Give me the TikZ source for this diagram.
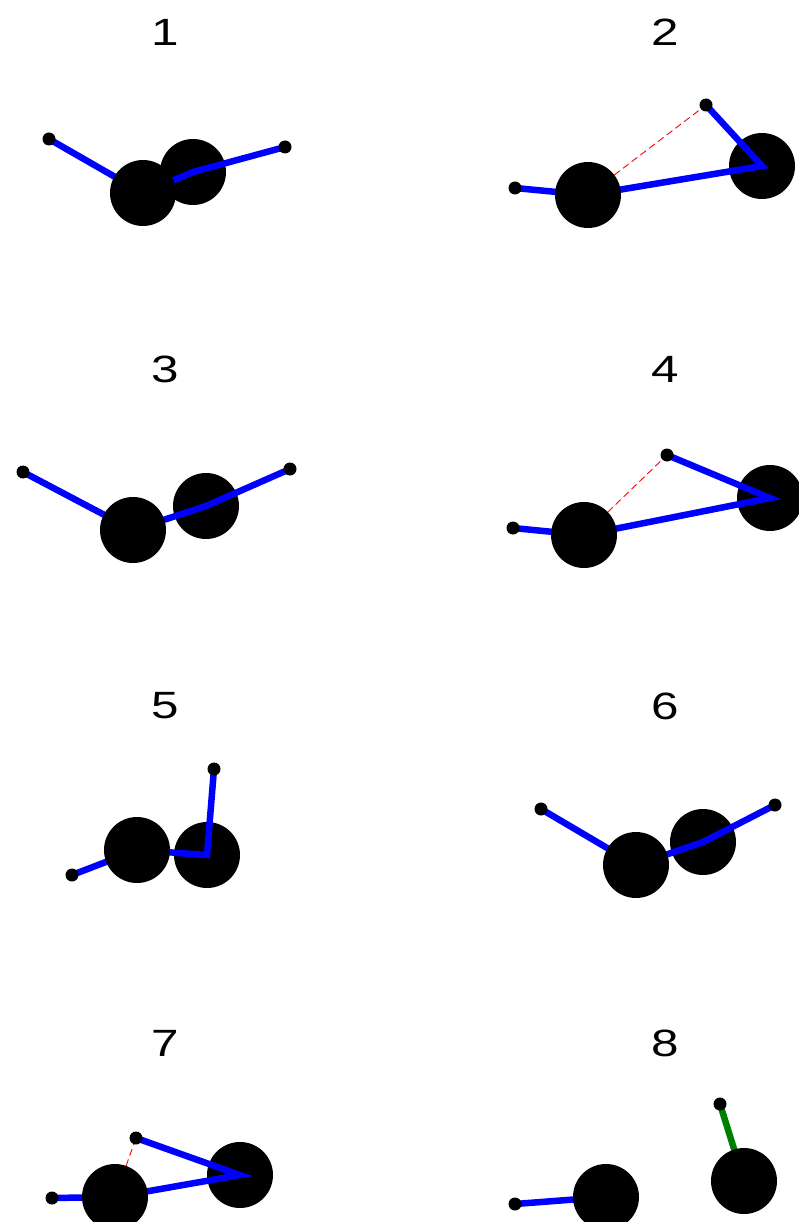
\documentclass[tikz,border=0pt]{standalone}
\usepackage{fontspec}
\newfontfamily\arialf{Liberation Sans}
\pgfdeclarelayer{paper}
\pgfdeclarelayer{bg}
\pgfdeclarelayer{fg}
\pgfsetlayers{paper,bg,main,fg}
\definecolor{mgreen}{RGB}{0,128,0}
\tikzset{
  joint/.style={circle, fill=black, minimum size=66pt, inner sep=0pt},
  tipdot/.style={circle, fill=black, minimum size=13pt, inner sep=0pt},
  link/.style={draw=blue, line width=6.5pt},
  glink/.style={draw=mgreen, line width=6.5pt},
  dist/.style={draw=red, line width=0.9pt, dash pattern=on 7pt off 4pt},
  ttl/.style={font=\arialf\fontsize{38}{40}\selectfont, xscale=1.3, inner sep=0pt}
}
\begin{document}
\begin{tikzpicture}[x=1pt,y=-1pt]
\begin{pgfonlayer}{paper}
\fill[white] (0,0) rectangle (799,1222);
\end{pgfonlayer}
\useasboundingbox (0,0) rectangle (799,1222);

% titles
\node[ttl] (t1) at (165,32) {1};
\node[ttl] (t2) at (665,32) {2};
\node[ttl] (t3) at (165,369) {3};
\node[ttl] (t4) at (665,369) {4};
\node[ttl] (t5) at (165,706) {5};
\node[ttl] (t6) at (665,706) {6};
\node[ttl] (t7) at (165,1043) {7};
\node[ttl] (t8) at (665,1043) {8};

% ---------- panel 1
\begin{pgfonlayer}{bg}
\node[joint] (p1b) at (193,172) {};
\end{pgfonlayer}
\begin{pgfonlayer}{fg}
\node[joint] (p1a) at (143,193) {};
\node[tipdot] (p1l) at (49,139) {};
\node[tipdot] (p1r) at (285,147) {};
\end{pgfonlayer}
\draw[link] (p1l.center) -- (p1a.center) -- (p1b.center) -- (p1r.center);

% ---------- panel 2
\begin{pgfonlayer}{bg}
\node[joint] (p2c) at (762,166) {};
\end{pgfonlayer}
\begin{pgfonlayer}{fg}
\node[joint] (p2a) at (588,195) {};
\node[tipdot] (p2l) at (515,188) {};
\node[tipdot] (p2t) at (706,105) {};
\end{pgfonlayer}
\draw[dist] (p2a.center) -- (p2t.center);
\draw[link] (p2l.center) -- (p2a.center) -- (p2c.center) -- (p2t.center);

% ---------- panel 3
\begin{pgfonlayer}{bg}
\node[joint] (p3b) at (206,506) {};
\end{pgfonlayer}
\begin{pgfonlayer}{fg}
\node[joint] (p3a) at (133,530) {};
\node[tipdot] (p3l) at (23,472) {};
\node[tipdot] (p3r) at (290,469) {};
\end{pgfonlayer}
\draw[link] (p3l.center) -- (p3a.center) -- (p3b.center) -- (p3r.center);

% ---------- panel 4
\begin{pgfonlayer}{bg}
\node[joint] (p4c) at (770,498) {};
\end{pgfonlayer}
\begin{pgfonlayer}{fg}
\node[joint] (p4a) at (584,535) {};
\node[tipdot] (p4l) at (513,528) {};
\node[tipdot] (p4t) at (667,455) {};
\end{pgfonlayer}
\draw[dist] (p4a.center) -- (p4t.center);
\draw[link] (p4l.center) -- (p4a.center) -- (p4c.center) -- (p4t.center);

% ---------- panel 5
\begin{pgfonlayer}{bg}
\node[joint] (p5b) at (207,855) {};
\end{pgfonlayer}
\begin{pgfonlayer}{fg}
\node[joint] (p5a) at (137,850) {};
\node[tipdot] (p5l) at (72,875) {};
\node[tipdot] (p5t) at (214,769) {};
\end{pgfonlayer}
\draw[link] (p5l.center) -- (p5a.center) -- (p5b.center) -- (p5t.center);

% ---------- panel 6
\begin{pgfonlayer}{bg}
\node[joint] (p6b) at (703,842) {};
\end{pgfonlayer}
\begin{pgfonlayer}{fg}
\node[joint] (p6a) at (636,865) {};
\node[tipdot] (p6l) at (541,809) {};
\node[tipdot] (p6r) at (775,805) {};
\end{pgfonlayer}
\draw[link] (p6l.center) -- (p6a.center) -- (p6b.center) -- (p6r.center);

% ---------- panel 7
\begin{pgfonlayer}{bg}
\node[joint] (p7c) at (240,1175) {};
\end{pgfonlayer}
\begin{pgfonlayer}{fg}
\node[joint] (p7a) at (115,1197) {};
\node[tipdot] (p7l) at (52,1198) {};
\node[tipdot] (p7t) at (136,1138) {};
\end{pgfonlayer}
\draw[dist] (p7a.center) -- (p7t.center);
\draw[link] (p7l.center) -- (p7a.center) -- (p7c.center) -- (p7t.center);

% ---------- panel 8
\begin{pgfonlayer}{fg}
\node[joint] (p8a) at (606,1197) {};
\node[joint] (p8b) at (744,1181) {};
\node[tipdot] (p8l) at (515,1204) {};
\node[tipdot] (p8t) at (720,1104) {};
\end{pgfonlayer}
\draw[link] (p8l.center) -- (p8a.center);
\draw[glink] (p8t.center) -- (p8b.center);
\end{tikzpicture}
\end{document}
